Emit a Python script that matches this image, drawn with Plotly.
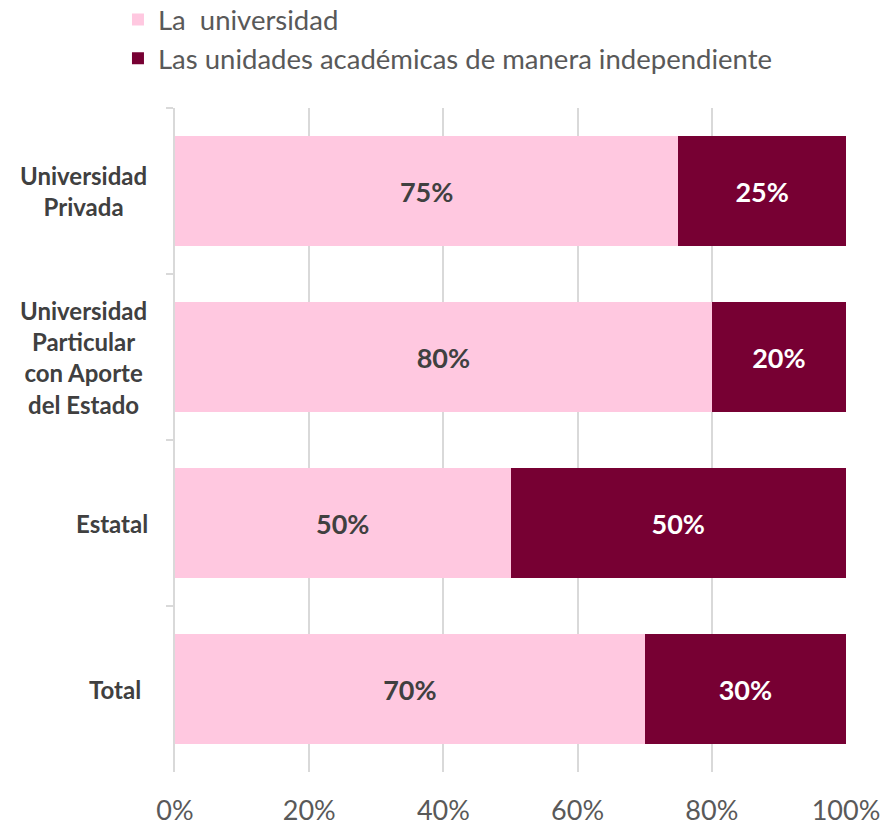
import plotly.graph_objects as go

categories = ["Universidad Privada", "Universidad Particular con Aporte del Estado", "Estatal", "Total"]
cat_labels = ["Universidad<br>Privada", "Universidad<br>Particular<br>con Aporte<br>del Estado", "Estatal", "Total"]
series_names = ["La  universidad", "Las unidades académicas de manera independiente"]
la_universidad = [75, 80, 50, 70]
unidades = [25, 20, 50, 30]
x_ticks = [0, 20, 40, 60, 80, 100]
x_ticklabels = ["0%", "20%", "40%", "60%", "80%", "100%"]

PINK = "#FFC8E0"
MAROON = "#770033"
FONT = "Lato, 'Open Sans', sans-serif"

fig = go.Figure()
fig.add_trace(go.Bar(
    y=categories, x=la_universidad, orientation="h", name=series_names[0],
    marker=dict(color=PINK, line=dict(width=0)),
    text=[f"{v}%" for v in la_universidad], textposition="inside",
    insidetextanchor="middle",
    textfont=dict(family=FONT, size=27, color="#404040", weight="bold"),
    hoverinfo="skip",
))
fig.add_trace(go.Bar(
    y=categories, x=unidades, orientation="h", name=series_names[1],
    marker=dict(color=MAROON, line=dict(width=0)),
    text=[f"{v}%" for v in unidades], textposition="inside",
    insidetextanchor="middle",
    textfont=dict(family=FONT, size=27, color="#FFFFFF", weight="bold"),
    hoverinfo="skip",
))

label_x = [-0.137, -0.137, -0.094, -0.089]
for cat, lab, lx in zip(categories, cat_labels, label_x):
    fig.add_annotation(
        x=lx, xref="paper", y=cat, yref="y", text=lab, showarrow=False,
        xanchor="center", yanchor="middle", align="center",
        font=dict(family=FONT, size=24, color="#404040", weight="bold"),
    )

fig.update_layout(
    barmode="stack",
    bargap=0.34,
    width=885, height=826,
    margin=dict(l=175, r=39, t=108, b=54, autoexpand=False),
    paper_bgcolor="white", plot_bgcolor="white",
    font=dict(family=FONT),
    uniformtext=dict(mode=False),
    legend=dict(
        orientation="v", x=-0.085, xanchor="left", y=1.17, yanchor="top",
        font=dict(family=FONT, size=27.5, color="#595959"),
        traceorder="normal", itemwidth=30, tracegroupgap=2,
        bgcolor="rgba(0,0,0,0)",
    ),
    showlegend=True,
)
fig.update_xaxes(
    range=[0, 100], tickvals=x_ticks, ticktext=x_ticklabels,
    showgrid=True, gridcolor="#D9D9D9", gridwidth=1.5,
    zeroline=False, showline=False, ticks="",
    tickfont=dict(family=FONT, size=27, color="#595959"),
    ticklabelstandoff=20,
)
fig.update_yaxes(
    categoryorder="array", categoryarray=categories, autorange="reversed",
    showticklabels=False, showgrid=False, zeroline=False,
    showline=True, linecolor="#D9D9D9", linewidth=1.5,
    ticks="outside", ticklen=7, tickcolor="#D9D9D9", tickwidth=1.5,
    tickson="boundaries",
)

fig.write_html(
    "out.html",
    config={"displayModeBar": False},
    post_script="document.body.style.margin='0';document.body.style.padding='0';document.body.style.overflow='hidden';",
)
